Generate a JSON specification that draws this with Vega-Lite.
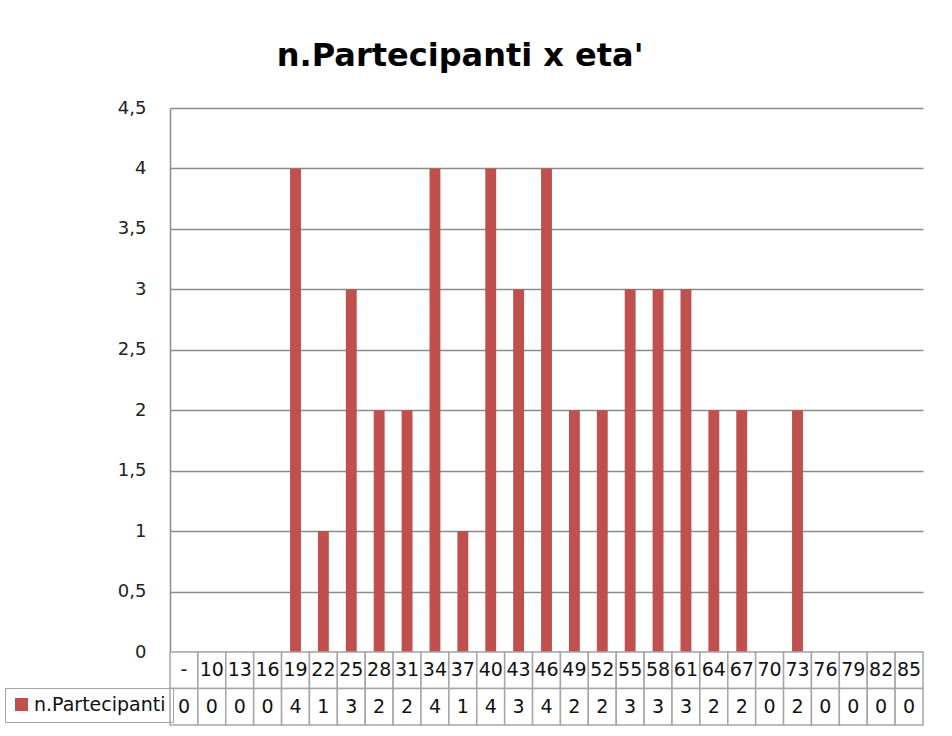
{
  "$schema": "https://vega.github.io/schema/vega-lite/v6.json",
  "background": "#ffffff",
  "padding": {"left": 4, "top": 40, "right": 5, "bottom": 5},
  "bounds": "flush",
  "spacing": 0,
  "title": {
    "text": "n.Partecipanti x eta'",
    "font": "DejaVu Sans",
    "fontWeight": "bold",
    "fontSize": 32,
    "color": "#000000",
    "anchor": "middle",
    "frame": "bounds",
    "offset": 26,
    "dx": -4
  },
  "data": {
    "values": [
      {"age": "-", "n": 0},
      {"age": "10", "n": 0},
      {"age": "13", "n": 0},
      {"age": "16", "n": 0},
      {"age": "19", "n": 4},
      {"age": "22", "n": 1},
      {"age": "25", "n": 3},
      {"age": "28", "n": 2},
      {"age": "31", "n": 2},
      {"age": "34", "n": 4},
      {"age": "37", "n": 1},
      {"age": "40", "n": 4},
      {"age": "43", "n": 3},
      {"age": "46", "n": 4},
      {"age": "49", "n": 2},
      {"age": "52", "n": 2},
      {"age": "55", "n": 3},
      {"age": "58", "n": 3},
      {"age": "61", "n": 3},
      {"age": "64", "n": 2},
      {"age": "67", "n": 2},
      {"age": "70", "n": 0},
      {"age": "73", "n": 2},
      {"age": "76", "n": 0},
      {"age": "79", "n": 0},
      {"age": "82", "n": 0},
      {"age": "85", "n": 0}
    ]
  },
  "config": {
    "view": {"stroke": null},
    "font": "DejaVu Sans"
  },
  "vconcat": [
    {
      "width": 753,
      "height": 544,
      "mark": {"type": "bar", "width": {"band": 0.39}},
      "encoding": {
        "x": {
          "field": "age",
          "type": "nominal",
          "sort": null,
          "scale": {"domain": ["-","10","13","16","19","22","25","28","31","34","37","40","43","46","49","52","55","58","61","64","67","70","73","76","79","82","85"], "paddingInner": 0, "paddingOuter": 0},
          "axis": null
        },
        "y": {
          "field": "n",
          "type": "quantitative",
          "scale": {"domain": [0, 4.5], "nice": false},
          "axis": {
            "title": null,
            "values": [0, 0.5, 1, 1.5, 2, 2.5, 3, 3.5, 4, 4.5],
            "labelExpr": "replace(format(datum.value, '.1~f'), '.', ',')",
            "labelFont": "DejaVu Sans",
            "labelFontSize": 18,
            "labelColor": "#222222",
            "labelPadding": 24,
            "ticks": false,
            "domainColor": "#8c8c8c",
            "domainWidth": 1.5,
            "grid": true,
            "gridColor": "#8c8c8c",
            "gridWidth": 1.3
          }
        },
        "color": {
          "datum": "n.Partecipanti",
          "type": "nominal",
          "scale": {"range": ["#C0504D"]},
          "legend": {
            "title": null,
            "orient": "none",
            "legendX": -165,
            "legendY": 580,
            "symbolType": "square",
            "symbolSize": 169,
            "symbolStrokeWidth": 0,
            "labelFont": "DejaVu Sans",
            "labelFontSize": 19,
            "labelColor": "#111111",
            "labelOffset": 3,
            "labelLimit": 200,
            "padding": 7,
            "strokeColor": "#a6a6a6",
            "cornerRadius": 0
          }
        }
      }
    },
    {
      "width": 753,
      "height": 73,
      "transform": [{"fold": ["age", "n"], "as": ["key", "value"]}],
      "encoding": {
        "x": {
          "field": "age",
          "type": "nominal",
          "sort": null,
          "scale": {"domain": ["-","10","13","16","19","22","25","28","31","34","37","40","43","46","49","52","55","58","61","64","67","70","73","76","79","82","85"], "paddingInner": 0, "paddingOuter": 0},
          "axis": null
        },
        "y": {
          "field": "key",
          "type": "nominal",
          "scale": {"domain": ["age", "n"], "paddingInner": 0, "paddingOuter": 0},
          "axis": null
        }
      },
      "layer": [
        {"mark": {"type": "rect", "fill": "#ffffff", "stroke": "#a6a6a6", "strokeWidth": 1.5}},
        {"mark": {"type": "text", "font": "DejaVu Sans", "fontSize": 19, "color": "#111111"}, "encoding": {"text": {"field": "value", "type": "nominal"}}}
      ]
    }
  ]
}
